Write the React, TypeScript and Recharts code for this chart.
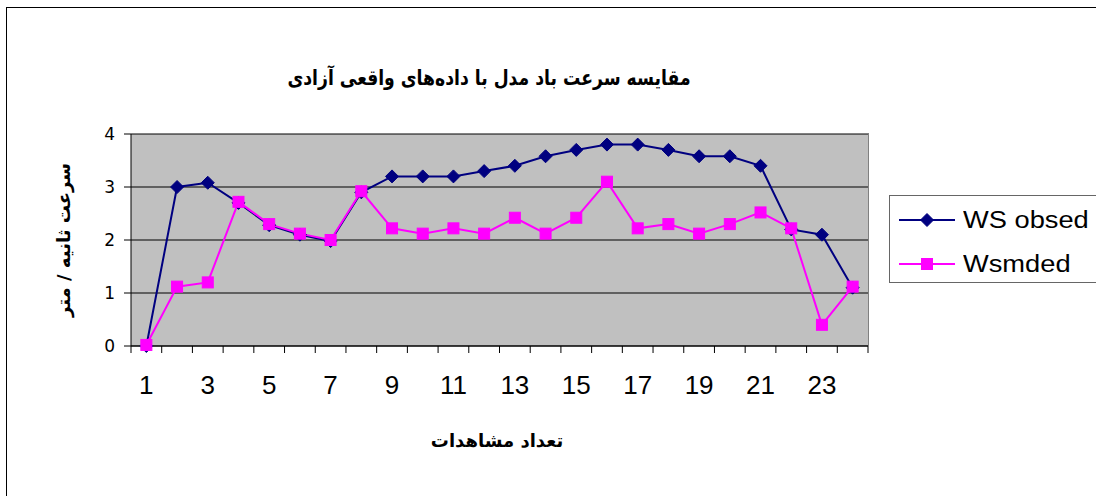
import { CartesianGrid, Line, LineChart, XAxis, YAxis } from "recharts";

const observations = [1, 2, 3, 4, 5, 6, 7, 8, 9, 10, 11, 12, 13, 14, 15, 16, 17, 18, 19, 20, 21, 22, 23, 24];
const wsObsed = [0, 3.0, 3.08, 2.7, 2.28, 2.1, 1.98, 2.9, 3.2, 3.2, 3.2, 3.3, 3.4, 3.58, 3.7, 3.8, 3.8, 3.7, 3.58, 3.58, 3.4, 2.2, 2.1, 1.1];
const wsmded = [0.02, 1.12, 1.2, 2.72, 2.3, 2.12, 2.0, 2.92, 2.22, 2.12, 2.22, 2.12, 2.42, 2.12, 2.42, 3.1, 2.22, 2.3, 2.12, 2.3, 2.52, 2.22, 0.4, 1.12];
const yTicks = [0, 1, 2, 3, 4];
const xLabelTicks = [1, 3, 5, 7, 9, 11, 13, 15, 17, 19, 21, 23];
const xBoundaryTicks = [0.5, 1.5, 2.5, 3.5, 4.5, 5.5, 6.5, 7.5, 8.5, 9.5, 10.5, 11.5, 12.5, 13.5, 14.5, 15.5, 16.5, 17.5, 18.5, 19.5, 20.5, 21.5, 22.5, 23.5, 24.5];

const TITLE = "مقایسه سرعت باد مدل با داده‌های واقعی آزادی";
const Y_LABEL = "سرعت ثانیه / متر";
const X_LABEL = "تعداد مشاهدات";

const SERIES = [
  { key: "wsObsed", name: "WS obsed", color: "#000080", shape: "diamond" },
  { key: "wsmded", name: "Wsmded", color: "#FF00FF", shape: "square" },
];

const data = observations.map((obs, i) => ({ obs, wsObsed: wsObsed[i], wsmded: wsmded[i] }));

const NUM_FONT = "'Liberation Sans', Arial, sans-serif";
const FA_FONT = "'DejaVu Sans', sans-serif";

// plot box in page pixels
const PLOT = { left: 131, top: 134, right: 868, bottom: 346 };

function Marker({ cx, cy, shape, color }: { cx?: number; cy?: number; shape: string; color: string }) {
  if (cx == null || cy == null) return null;
  if (shape === "diamond") {
    const r = 6.5;
    return <polygon points={`${cx},${cy - r} ${cx + r},${cy} ${cx},${cy + r} ${cx - r},${cy}`} fill={color} stroke={color} />;
  }
  return <rect x={cx - 5.5} y={cy - 5.5} width={11} height={11} fill={color} stroke={color} />;
}

export default function App() {
  return (
    <>
      <style>{`body { margin: 0; }`}</style>
      <div style={{ position: "relative", width: 1096, height: 496, background: "#fff", overflow: "hidden" }}>
        <LineChart
          width={1096}
          height={496}
          data={data}
          margin={{ top: PLOT.top, right: 1096 - PLOT.right, bottom: 100, left: PLOT.left - 40 }}
          style={{ position: "absolute", left: 0, top: 0 }}
        >
          <CartesianGrid vertical={false} stroke="#000" fill="#C0C0C0" fillOpacity={1} />
          <XAxis
            xAxisId="bounds"
            type="number"
            dataKey="obs"
            domain={[0.5, 24.5]}
            ticks={xBoundaryTicks}
            tickFormatter={() => ""}
            tickSize={7}
            height={8}
            stroke="#000"
            allowDataOverflow
          />
          <XAxis
            xAxisId="labels"
            type="number"
            dataKey="obs"
            domain={[0.5, 24.5]}
            ticks={xLabelTicks}
            axisLine={false}
            tickLine={false}
            tickSize={0}
            tickMargin={22}
            height={42}
            fontSize={26}
            tick={{ fill: "#000", fontSize: 26, fontFamily: NUM_FONT }}
            allowDataOverflow
          />
          <YAxis
            domain={[0, 4]}
            ticks={yTicks}
            width={40}
            tickSize={7}
            tickMargin={9}
            stroke="#000"
            fontSize={17}
            tick={{ fill: "#000", fontSize: 17, fontFamily: FA_FONT }}
          />
          {SERIES.map((s) => (
            <Line
              key={s.key}
              xAxisId="bounds"
              dataKey={s.key}
              name={s.name}
              stroke={s.color}
              strokeWidth={2}
              dot={(p: any) => <Marker key={`${s.key}-${p.index}`} cx={p.cx} cy={p.cy} shape={s.shape} color={s.color} />}
              activeDot={false}
              isAnimationActive={false}
            />
          ))}
        </LineChart>

        {/* outer chart border: only top and left edges are inside the picture */}
        <div style={{ position: "absolute", left: 6, top: 7, width: 1090, height: 1, background: "#000", zIndex: 5 }} />
        <div style={{ position: "absolute", left: 6, top: 7, width: 1, height: 489, background: "#000", zIndex: 5 }} />

        {/* plot frame top/right */}
        <div
          style={{
            position: "absolute",
            left: PLOT.left,
            top: PLOT.top - 1,
            width: PLOT.right - PLOT.left,
            height: PLOT.bottom - PLOT.top,
            borderTop: "1px solid #808080",
            borderRight: "1px solid #808080",
            pointerEvents: "none",
          }}
        />

        <div
          dir="rtl"
          style={{
            position: "absolute",
            left: 489,
            top: 78,
            transform: "translate(-50%, -50%) scaleX(0.82)",
            whiteSpace: "nowrap",
            fontFamily: FA_FONT,
            fontWeight: "bold",
            fontSize: 21,
          }}
        >
          {TITLE}
        </div>

        <div
          dir="rtl"
          style={{
            position: "absolute",
            left: 63,
            top: 240,
            transform: "translate(-50%, -50%) rotate(-90deg)",
            whiteSpace: "nowrap",
            fontFamily: FA_FONT,
            fontWeight: "bold",
            fontSize: 18,
          }}
        >
          {Y_LABEL}
        </div>

        <div
          dir="rtl"
          style={{
            position: "absolute",
            left: 497,
            top: 440,
            transform: "translate(-50%, -50%)",
            whiteSpace: "nowrap",
            fontFamily: FA_FONT,
            fontWeight: "bold",
            fontSize: 18,
          }}
        >
          {X_LABEL}
        </div>

        <div
          style={{
            position: "absolute",
            left: 889,
            top: 195,
            width: 300,
            height: 88,
            boxSizing: "border-box",
            border: "1px solid #666",
            background: "#fff",
          }}
        >
          {SERIES.map((s, i) => (
            <div key={s.key} style={{ position: "absolute", left: 9, top: 24 + i * 44 - 15, height: 30, display: "flex", alignItems: "center" }}>
              <svg width={56} height={16} style={{ display: "block" }}>
                <line x1={0} y1={8} x2={56} y2={8} stroke={s.color} strokeWidth={2} />
                <Marker cx={28} cy={8} shape={s.shape} color={s.color} />
              </svg>
              <span
                style={{
                  marginLeft: 8,
                  display: "inline-block",
                  transform: "scaleX(1.16)",
                  transformOrigin: "left center",
                  whiteSpace: "nowrap",
                  fontFamily: NUM_FONT,
                  fontSize: 23.5,
                  lineHeight: "30px",
                  color: "#000",
                }}
              >
                {s.name}
              </span>
            </div>
          ))}
        </div>
      </div>
    </>
  );
}
